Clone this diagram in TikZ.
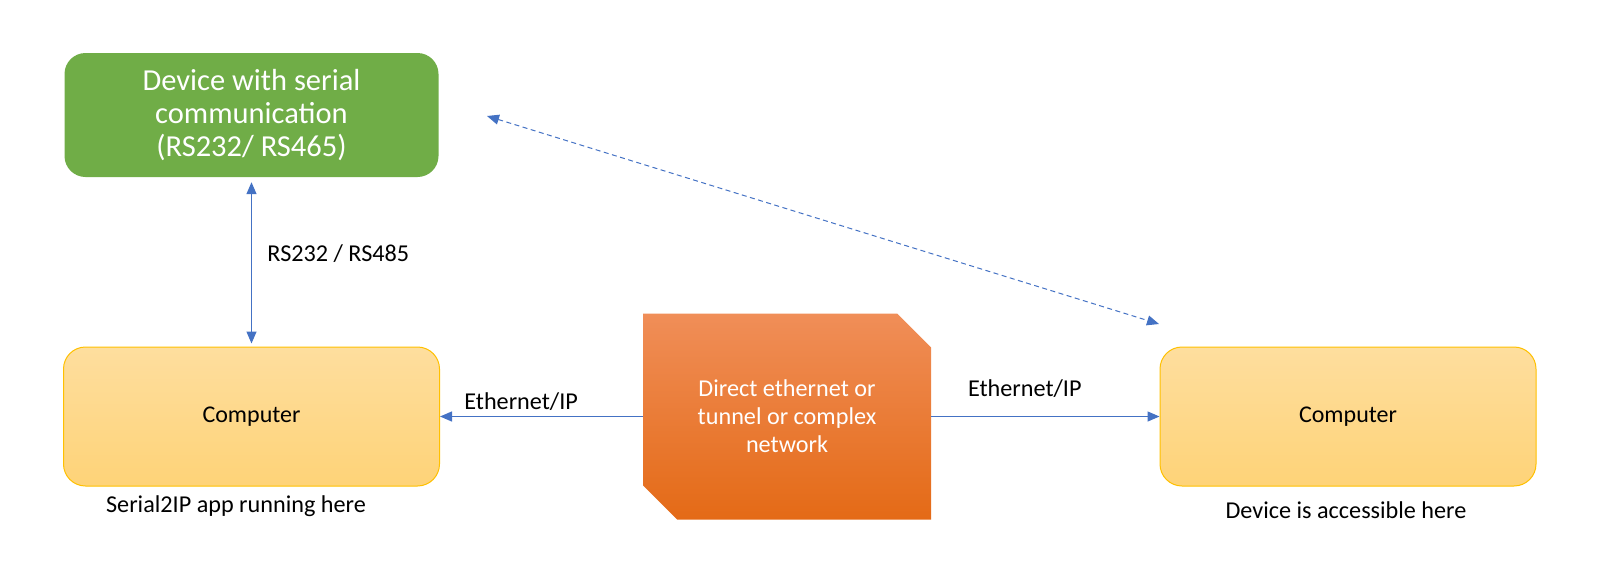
\documentclass[tikz,border=0pt]{standalone}
\usepackage{fontspec}
\setmainfont{Carlito}
\usetikzlibrary{shapes.misc, arrows.meta}
\definecolor{devgreen}{RGB}{112,173,71}
\definecolor{pcborder}{RGB}{255,192,0}
\definecolor{pctop}{RGB}{254,222,158}
\definecolor{pcbot}{RGB}{254,211,120}
\definecolor{nettop}{RGB}{240,142,88}
\definecolor{netbot}{RGB}{228,106,22}
\definecolor{linkblue}{RGB}{68,114,196}

\begin{document}
\begin{tikzpicture}[x=1pt, y=-1pt,
  pc/.style={draw=pcborder, line width=1pt, rounded corners=22pt, top color=pctop, bottom color=pcbot,
    minimum width=376pt, minimum height=139pt, font=\fontsize{24}{29}\selectfont},
  conn/.style={draw=linkblue, line width=1.3pt},
  onetip/.style={-{Triangle[length=12pt,width=10pt]}},
  twotips/.style={{Triangle[length=12pt,width=10pt]}-{Triangle[length=12pt,width=10pt]}},
  lbl/.style={font=\fontsize{24.2}{29}\selectfont}]
  \useasboundingbox (0,0) rectangle (1597,576);

  \node (dev) [fill=devgreen, rounded corners=21pt, minimum width=374pt, minimum height=124pt,
    text=white, align=center, font=\fontsize{30.5}{32.6}\selectfont] at (251.5,115)
    {Device with serial\\communication\\(RS232/ RS465)};
  \node (pcL) [pc] at (251.5,416.5) {Computer};
  \node (pcR) [pc] at (1348,416.5) {Computer};
  \node (net) [chamfered rectangle, chamfered rectangle corners={north east, south west},
    chamfered rectangle sep=17pt, top color=nettop, bottom color=netbot, inner sep=0pt,
    minimum width=288pt, minimum height=206pt, text=white, align=center,
    font=\fontsize{24.2}{28}\selectfont] at (787,416.5)
    {Direct ethernet or\\tunnel or complex\\network};

  \node (capL) [lbl] at (236,506) {Serial2IP app running here};
  \node (capR) [lbl] at (1346,510) {Device is accessible here};

  \draw[conn, twotips, shorten <=5pt, shorten >=3pt] (dev.south) -- (pcL.north)
    node (rsl) [lbl, pos=0.45, anchor=west, xshift=12pt, text=black] {RS232 / RS485};
  \draw[conn, onetip] (net.west) -- (pcL.east)
    node (ethL) [lbl, pos=0.6, yshift=15pt, text=black] {Ethernet/IP};
  \draw[conn, onetip] (net.east) -- (pcR.west)
    node (ethR) [lbl, pos=0.41, yshift=28pt, text=black] {Ethernet/IP};

  \coordinate (dA) at (487,116);
  \coordinate (dB) at (1159,324);
  \draw[conn, twotips, dash pattern=on 5pt off 3.5pt, line width=1pt] (dA) -- (dB);
\end{tikzpicture}
\end{document}
